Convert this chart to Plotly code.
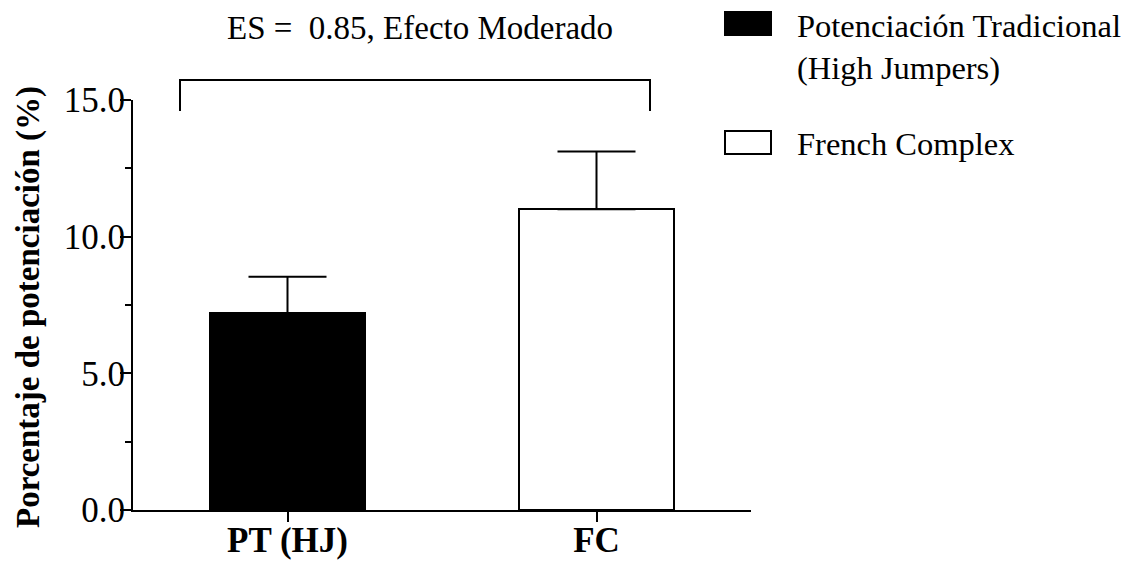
import plotly.graph_objects as go

categories = ["PT (HJ)", "FC"]
means = [7.2, 11.0]
errors_up = [1.33, 2.12]
bar_colors = ["black", "white"]
legend_labels = ["Potenciación Tradicional<br>(High Jumpers)", "French Complex"]
y_ticks = [0, 5, 10, 15]
y_ticklabels = ["0.0", "5.0", "10.0", "15.0"]
title_text = "ES =  0.85, Efecto Moderado"
y_title = "Porcentaje de potenciación (%)"

W, H = 1139, 563
L, R, T, B = 133, 751, 100, 510

def px(x):
    return (x - L) / (R - L)

def py(y):
    return (B - y) / (B - T)

FONT = "Liberation Serif"

fig = go.Figure()
fig.add_trace(go.Bar(
    x=[0, 1], y=means, width=0.5,
    marker=dict(color=bar_colors, line=dict(color="black", width=2)),
    error_y=dict(type="data", symmetric=False, array=errors_up, arrayminus=[0, 0],
                 color="black", thickness=2, width=39),
    showlegend=False,
))

fig.update_layout(
    width=W, height=H,
    margin=dict(l=L, r=W - R, t=T, b=H - B, pad=0),
    plot_bgcolor="white", paper_bgcolor="white",
    font=dict(family=FONT, color="black"),
    xaxis=dict(range=[-0.5, 1.5], tickvals=[0, 1], ticktext=categories,
               showline=True, linecolor="black", linewidth=2,
               ticks="outside", ticklen=10, tickwidth=2, tickcolor="black",
               tickfont=dict(family=FONT, size=35, weight="bold"), ticklabelstandoff=-12,
               showgrid=False, zeroline=False, fixedrange=True, automargin=False),
    yaxis=dict(range=[0, 15], tickvals=y_ticks, ticktext=y_ticklabels,
               showline=True, linecolor="black", linewidth=2,
               ticks="outside", ticklen=11, tickwidth=2, tickcolor="black",
               minor=dict(dtick=2.5, tick0=0, ticks="outside", ticklen=6, tickwidth=2, tickcolor="black"),
               tickfont=dict(family=FONT, size=35), ticklabelstandoff=-12,
               showgrid=False, zeroline=False, fixedrange=True, automargin=False),
    bargap=0,
)

# bracket
fig.add_shape(type="path", xref="paper", yref="paper",
              path=f"M {px(180)},{py(111)} L {px(180)},{py(80)} L {px(650)},{py(80)} L {px(650)},{py(111)}",
              line=dict(color="black", width=2))

# title
fig.add_annotation(x=px(420), y=py(28), xref="paper", yref="paper", text=title_text,
                   showarrow=False, font=dict(family=FONT, size=33), xanchor="center", yanchor="middle")

# y axis title
fig.add_annotation(x=px(28), y=py(307), xref="paper", yref="paper", text=y_title, textangle=-90,
                   showarrow=False, font=dict(family=FONT, size=33, weight="bold"),
                   xanchor="center", yanchor="middle")

# legend
fig.add_shape(type="rect", xref="paper", yref="paper", x0=px(725), x1=px(771), y0=py(35), y1=py(12),
              fillcolor=bar_colors[0], line=dict(color="black", width=2))
fig.add_shape(type="rect", xref="paper", yref="paper", x0=px(725), x1=px(771), y0=py(154), y1=py(131),
              fillcolor=bar_colors[1], line=dict(color="black", width=2))
fig.add_annotation(x=px(795), y=py(47), xref="paper", yref="paper", text=legend_labels[0],
                   showarrow=False, font=dict(family=FONT, size=32.5), xanchor="left", yanchor="middle",
                   align="left")
fig.add_annotation(x=px(795), y=py(144), xref="paper", yref="paper", text=legend_labels[1],
                   showarrow=False, font=dict(family=FONT, size=32.5), xanchor="left", yanchor="middle",
                   align="left")

fig.write_html("out.html")
